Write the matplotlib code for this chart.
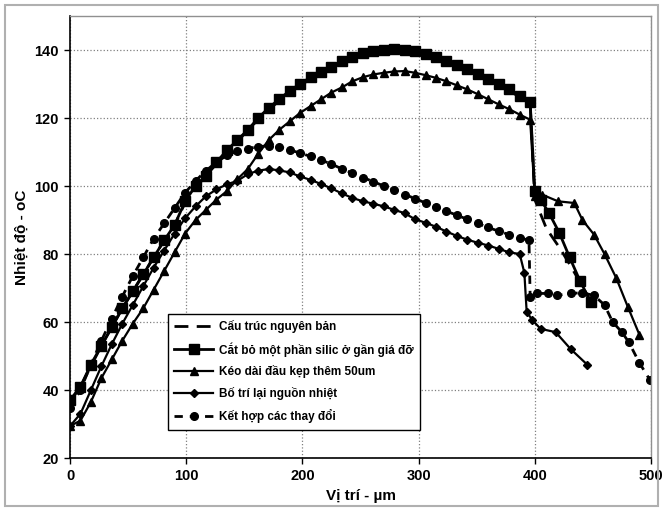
import matplotlib.pyplot as plt
from matplotlib.patches import Rectangle

plt.rcParams['font.family'] = ['Liberation Sans', 'DejaVu Sans']
plt.rcParams['font.weight'] = 'bold'

# Cắt bỏ một phần silic (vuông)
x_sq = [0, 9, 18, 27, 36, 45, 54, 63, 72, 81, 90, 99, 108, 117, 126, 135, 144, 153, 162,
        171, 180, 189, 198, 207, 216, 225, 234, 243, 252, 261, 270, 279, 288, 297, 306,
        315, 324, 333, 342, 351, 360, 369, 378, 387, 396, 400, 405, 412, 421, 430, 439, 448]
y_sq = [37, 41, 47.5, 53, 58.5, 64, 69, 74, 79, 84, 88.5, 95.5, 100, 103, 107, 110.5,
        113.5, 116.5, 120, 123, 125.5, 128, 130, 132, 133.5, 135, 136.8, 138, 139, 139.6,
        140, 140.2, 140, 139.6, 138.8, 137.8, 136.8, 135.5, 134.3, 133, 131.5, 130, 128.5,
        126.5, 124.6, 98.5, 96, 92.2, 86.3, 79, 72, 66]

# Cấu trúc nguyên bản (nét đứt)
x_orig = [0, 9, 18, 27, 36, 45, 54, 63, 72, 81, 90, 99, 108, 117, 126, 135, 144, 153, 162,
          171, 180, 189, 198, 207, 216, 225, 234, 243, 252, 261, 270, 279, 288, 297, 306,
          315, 324, 333, 342, 351, 360, 369, 378, 387, 396, 400, 410, 421, 430, 440, 450]
y_orig = [36.5, 41, 47, 53, 58.5, 64, 69, 74, 79, 84, 88.5, 95, 99.5, 103, 106.5, 110,
          113, 116.5, 119.5, 122.5, 125, 127.5, 129.5, 131.5, 133, 134.5, 136.3, 137.5,
          138.5, 139.2, 139.6, 139.8, 139.6, 139.2, 138.4, 137.4, 136.4, 135.1, 133.9,
          132.6, 131.1, 129.6, 128.1, 126.1, 124.2, 96, 87.5, 82, 77, 71, 65]

# Kéo dài đầu kẹp thêm 50um (tam giác)
x_tri = [0, 9, 18, 27, 36, 45, 54, 63, 72, 81, 90, 99, 108, 117, 126, 135, 144, 153, 162,
         171, 180, 189, 198, 207, 216, 225, 234, 243, 252, 261, 270, 279, 288, 297, 306,
         315, 324, 333, 342, 351, 360, 369, 378, 387, 396, 400, 406, 420, 434, 441, 451,
         460, 470, 480, 490]
y_tri = [29.4, 31, 36.5, 43.5, 49, 54.5, 59.5, 64, 69.5, 75, 80.5, 86, 90, 93, 96, 98.5,
         102, 105, 109.5, 113.5, 116.5, 119, 121.5, 123.5, 125.5, 127.5, 129, 130.8, 132,
         132.8, 133.3, 133.7, 133.8, 133.3, 132.6, 131.8, 130.8, 129.6, 128.4, 127, 125.5,
         124, 122.6, 121, 119.5, 97, 97.5, 95.5, 95, 90, 85.7, 80, 73, 64.5, 56.3]

# Bố trí lại nguồn nhiệt (thoi)
x_dia = [0, 9, 18, 27, 36, 45, 54, 63, 72, 81, 90, 99, 108, 117, 126, 135, 144, 153, 162,
         171, 180, 189, 198, 207, 216, 225, 234, 243, 252, 261, 270, 279, 288, 297, 306,
         315, 324, 333, 342, 351, 360, 369, 378, 387, 391, 393, 398, 405, 418, 431, 445]
y_dia = [29.4, 33, 40, 47, 53.5, 59.5, 65, 70.5, 76, 81, 86, 90.5, 94, 97, 99, 100.5,
         101.5, 103.5, 104.5, 105, 104.6, 104, 102.8, 101.8, 100.6, 99.3, 97.8, 96.5, 95.5,
         94.8, 94, 93, 92, 90.2, 89.2, 88, 86.6, 85.3, 84.2, 83.3, 82.5, 81.5, 80.5, 80,
         74.5, 63, 60.5, 58, 57, 52, 47.5]

# Kết hợp các thay đổi (tròn)
x_cir = [0, 9, 18, 27, 36, 45, 54, 63, 72, 81, 90, 99, 108, 117, 126, 135, 144, 153, 162,
         171, 180, 189, 198, 207, 216, 225, 234, 243, 252, 261, 270, 279, 288, 297, 306,
         315, 324, 333, 342, 351, 360, 369, 378, 387, 395, 396, 402, 411, 419, 431, 441,
         451, 460, 467, 475, 481, 490, 499]
y_cir = [34.7, 40, 47.5, 54.5, 61, 67.5, 73.5, 79, 84.5, 89, 93.5, 98, 101.5, 104.5, 107,
         109, 110.3, 111, 111.6, 111.8, 111.5, 110.6, 109.7, 108.7, 107.6, 106.5, 105,
         103.8, 102.5, 101.3, 100, 98.8, 97.5, 96.3, 95, 93.8, 92.6, 91.4, 90.2, 89, 87.8,
         86.7, 85.7, 84.8, 84, 67.5, 68.4, 68.4, 67.8, 68.4, 68.6, 67.8, 65, 60, 57, 54,
         48, 43]

labels = ['Cấu trúc nguyên bản', 'Cắt bỏ một phần silic ở gần giá đỡ',
          'Kéo dài đầu kẹp thêm 50um', 'Bố trí lại nguồn nhiệt', 'Kết hợp các thay đổi']

fig = plt.figure(figsize=(6.63, 5.13), dpi=100)
ax = fig.add_axes([0.1056, 0.1072, 0.8763, 0.8616])

fig.patches.append(Rectangle((0.008, 0.014), 0.985, 0.976, transform=fig.transFigure,
                             fill=False, edgecolor='#b0b0b0', linewidth=1.5))

ax.plot(x_orig, y_orig, color='black', lw=2, linestyle=(0, (5, 3)), label=labels[0])
ax.plot(x_sq, y_sq, color='black', lw=2, marker='s', markersize=7, label=labels[1])
ax.plot(x_tri, y_tri, color='black', lw=1.6, marker='^', markersize=6, label=labels[2])
ax.plot(x_dia, y_dia, color='black', lw=1.6, marker='D', markersize=4.5, label=labels[3])
ax.plot(x_cir, y_cir, color='black', lw=2, linestyle=(0, (3, 2.5)), marker='o',
        markersize=5.5, label=labels[4])

ax.set_xlim(0, 500)
ax.set_ylim(20, 150)
ax.set_xticks([0, 100, 200, 300, 400, 500])
ax.set_yticks([20, 40, 60, 80, 100, 120, 140])
ax.grid(True, color='#808080', linestyle=':', linewidth=0.9)
ax.set_axisbelow(True)

for s in ['left', 'bottom']:
    ax.spines[s].set_color('black')
    ax.spines[s].set_linewidth(1.2)
for s in ['top', 'right']:
    ax.spines[s].set_color('#909090')
    ax.spines[s].set_linewidth(1)

ax.tick_params(axis='both', direction='out', length=4, width=1, labelsize=10.5, pad=4)
for t in ax.get_xticklabels() + ax.get_yticklabels():
    t.set_fontweight('bold')

ax.set_xlabel('Vị trí - µm', fontsize=11, fontweight='bold', labelpad=4)
ax.set_ylabel('Nhiệt độ - oC', fontsize=11, fontweight='bold', labelpad=4)

leg = ax.legend(loc='lower left', bbox_to_anchor=(0.168, 0.064), fontsize=8.5,
                handlelength=3.3, handletextpad=0.5, labelspacing=0.75,
                borderpad=0.55, fancybox=False, framealpha=1, borderaxespad=0)
leg.get_frame().set_edgecolor('black')
leg.get_frame().set_linewidth(1)
for t in leg.get_texts():
    t.set_fontweight('bold')

fig.savefig('out.png', dpi=100)
